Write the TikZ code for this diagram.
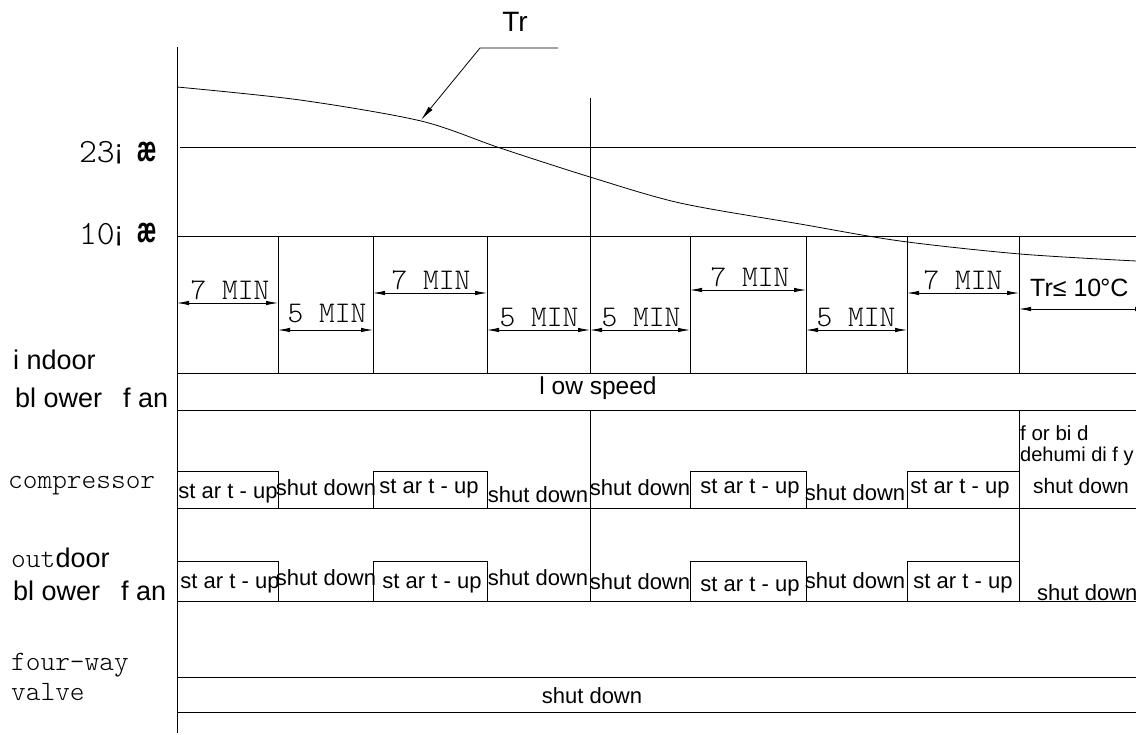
\documentclass[tikz,border=0pt]{standalone}
\usepackage{fontspec}
\usepackage{graphicx}
\setmainfont{Liberation Sans}
\newfontfamily\thin{lmmonolt10-regular.otf}
\usetikzlibrary{arrows.meta}
\begin{document}
\begin{tikzpicture}[x=1pt,y=-1pt,
  ln/.style={line width=0.8pt},
  dimarr/.style={line width=0.8pt,{Latex[length=12pt,width=4.5pt]}-{Latex[length=12pt,width=4.5pt]}},
  lab/.style={inner sep=0pt,font=\fontsize{22}{22}\selectfont,anchor=base},
  minlab/.style={inner sep=0pt,font=\thin\fontsize{30}{30}\selectfont,anchor=base},
  rowlab/.style={inner sep=0pt,font=\fontsize{27}{27}\selectfont,anchor=base west},
  thinlab/.style={inner sep=0pt,font=\thin\fontsize{28}{28}\selectfont,anchor=base west},
]
\useasboundingbox (0,0) rectangle (1136,735);
% axis and lines
\draw[line width=1pt] (177,47) -- (177,733);
\draw[ln] (180,147) -- (1136,147);
\foreach \y in {236,373,410,508,601,677,712} \draw[ln] (177,\y) -- (1136,\y);
\foreach \x in {278,373,487,690,806,907} \draw[ln] (\x,236) -- (\x,373);
\draw[ln] (590,98) -- (590,373);
\draw[ln] (590,410) -- (590,601);
\draw[ln] (1019,236) -- (1019,373);
\draw[ln] (1019,410) -- (1019,601);
\foreach \a/\b in {177/278,373/487,690/806,907/1019}{
  \draw[ln] (\a,508) |- (\b,471) -- (\b,508);
  \draw[ln] (\a,601) |- (\b,561) -- (\b,601);
}
% Tr curve
\draw[ln] plot[smooth,tension=0.5] coordinates {(177,87) (300,100) (421,121) (500,148) (590,177) (680,203) (800,224) (900,241) (1020,254) (1136,261)};
\coordinate (trA) at (558,48);
\coordinate (trB) at (480,48);
\coordinate (trC) at (421,120);
\draw[ln,-{Latex[length=15pt,width=5pt]}] (trA) -- (trB) -- (trC);
\node[inner sep=0pt,font=\fontsize{28}{28}\selectfont] (tr) at (515,22) {Tr};
% temperature labels
\node[inner sep=0pt,font=\thin\fontsize{34}{34}\selectfont,anchor=base east] (t23) at (115,163) {23};
\node[inner sep=0pt,font=\fontsize{28}{28}\selectfont,anchor=base west] (i23) at (114,160) {¡};
\node[inner sep=0pt,anchor=base west] (a23) at (137,162) {\scalebox{0.6}[1]{\fontsize{36}{36}\selectfont\bfseries æ}};
\node[inner sep=0pt,font=\thin\fontsize{34}{34}\selectfont,anchor=base east] (t10) at (115,245) {10};
\node[inner sep=0pt,font=\fontsize{28}{28}\selectfont,anchor=base west] (i10) at (114,242) {¡};
\node[inner sep=0pt,anchor=base west] (a10) at (137,243) {\scalebox{0.6}[1]{\fontsize{36}{36}\selectfont\bfseries æ}};
% dimension lines
\coordinate (d1a) at (177,303); \coordinate (d1b) at (278,303);
\coordinate (d2a) at (278,330); \coordinate (d2b) at (373,330);
\coordinate (d3a) at (373,293); \coordinate (d3b) at (487,293);
\coordinate (d4a) at (487,330); \coordinate (d4b) at (590,330);
\coordinate (d5a) at (590,330); \coordinate (d5b) at (690,330);
\coordinate (d6a) at (690,290); \coordinate (d6b) at (806,290);
\coordinate (d7a) at (806,330); \coordinate (d7b) at (907,330);
\coordinate (d8a) at (907,293); \coordinate (d8b) at (1019,293);
\coordinate (d9a) at (1019,309); \coordinate (d9b) at (1147,309);
\foreach \i in {1,...,9} \draw[dimarr] (d\i a) -- (d\i b);
\node[minlab] (m1) at (230,300) {7 MIN};
\node[minlab] (m2) at (327,323) {5 MIN};
\node[minlab] (m3) at (431,290) {7 MIN};
\node[minlab] (m4) at (539,327) {5 MIN};
\node[minlab] (m5) at (641,327) {5 MIN};
\node[minlab] (m6) at (750,287) {7 MIN};
\node[minlab] (m7) at (856,327) {5 MIN};
\node[minlab] (m8) at (963,290) {7 MIN};
\node[inner sep=0pt,font=\fontsize{25}{25}\selectfont,anchor=base west] (m9) at (1030,297) {Tr≤ 10\kern-1pt°C};
% row labels
\node[rowlab] (r1a) at (13,370) {i ndoor};
\node[rowlab] (r1b) at (15,407) {bl ower\hspace{0.5em} f an};
\node[thinlab] (r2) at (8,488) {compressor};
\node[thinlab] (r3a) at (11,567) {out};
\node[rowlab,anchor=base west] (r3b) at (r3a.base east) {door};
\node[rowlab] (r3c) at (13,600) {bl ower\hspace{0.5em} f an};
\node[thinlab] (r4a) at (11,670) {four—way};
\node[thinlab] (r4b) at (11,700) {valve};
% indoor fan
\node[inner sep=0pt,font=\fontsize{24.5}{25}\selectfont,anchor=base] (low) at (598,395) {l ow speed};
% compressor row
\node[lab] (c1) at (228,498) {st ar t - up};
\node[lab] (c2) at (326,495) {shut down};
\node[lab] (c3) at (429,493) {st ar t - up};
\node[lab] (c4) at (538,502) {shut down};
\node[lab] (c5) at (640,495) {shut down};
\node[lab] (c6) at (750,493) {st ar t - up};
\node[lab] (c7) at (855,500) {shut down};
\node[lab] (c8) at (960,493) {st ar t - up};
\node[inner sep=0pt,font=\fontsize{20.5}{21}\selectfont,anchor=base west] (c9) at (1020,440) {f or bi d};
\node[inner sep=0pt,font=\fontsize{20}{21}\selectfont,anchor=base west] (c10) at (1020,461) {dehumi di f y};
\node[inner sep=0pt,font=\fontsize{21}{21}\selectfont,anchor=base west] (c11) at (1033,493) {shut down};
% outdoor row
\node[lab] (o1) at (230,588) {st ar t - up};
\node[lab] (o2) at (326,585) {shut down};
\node[lab] (o3) at (432,588) {st ar t - up};
\node[lab] (o4) at (538,585) {shut down};
\node[lab] (o5) at (640,589) {shut down};
\node[lab] (o6) at (750,591) {st ar t - up};
\node[lab] (o7) at (855,588) {shut down};
\node[lab] (o8) at (963,588) {st ar t - up};
\node[lab,anchor=base west] (o9) at (1037,600) {shut down};
% four-way valve
\node[lab] (v1) at (592,703) {shut down};
\end{tikzpicture}
\end{document}
